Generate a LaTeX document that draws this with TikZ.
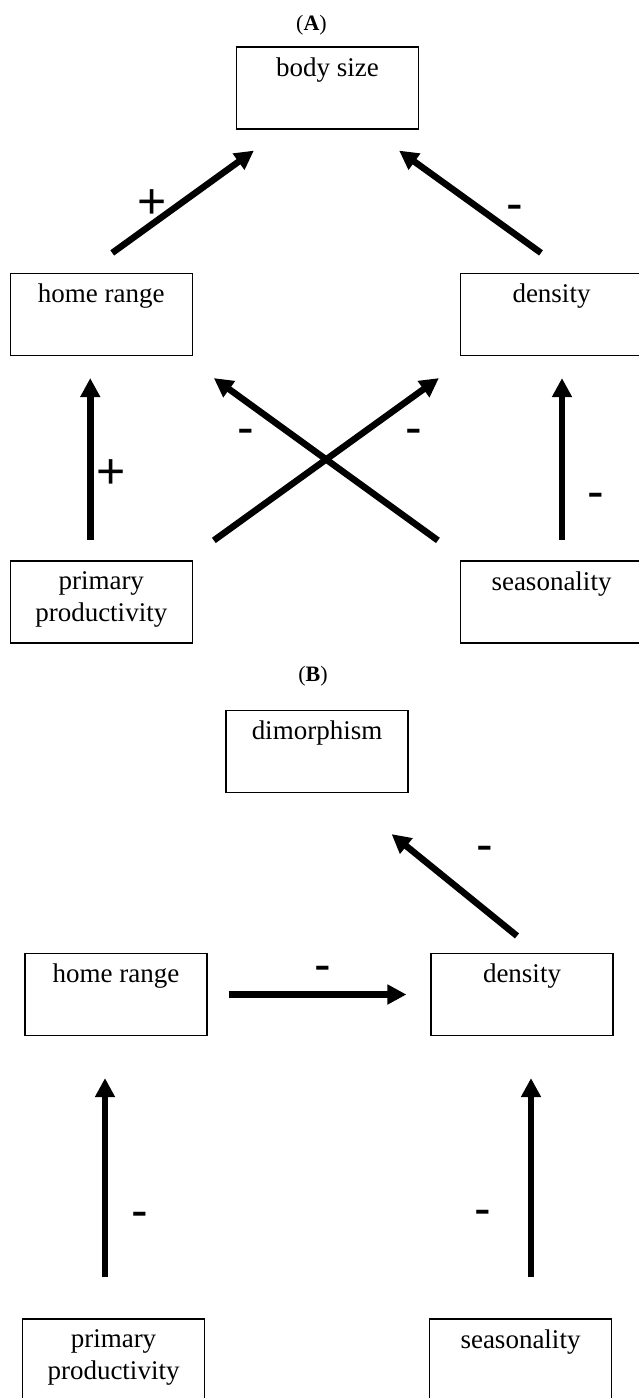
\documentclass[tikz,border=0pt]{standalone}
\usepackage{fontspec}
\setmainfont{Liberation Serif}
\newfontfamily\signfont{Liberation Sans}
\usetikzlibrary{arrows.meta,calc}

\tikzset{
  box/.style={draw, line width=1.2pt, minimum width=182pt, minimum height=82pt, inner sep=0pt},
  boxtext/.style={anchor=north, yshift=-11pt, inner sep=0pt, align=center, font=\fontsize{27}{32}\selectfont},
  causal/.style={line width=6.5pt, -{Triangle[length=19pt,width=19pt]}},
  minus/.style={font=\signfont\fontsize{50}{60}\selectfont, inner sep=0pt, text height=27pt, text depth=0pt},
  plus/.style={font=\signfont\fontsize{50}{60}\selectfont, inner sep=0pt, text height=35pt, text depth=0pt},
  panel/.style={anchor=base, font=\fontsize{22}{26}\selectfont}
}

\begin{document}
\begin{tikzpicture}[x=1pt, y=-1pt] % pixel grid, y runs down

  \useasboundingbox (0,0) rectangle (638,1398);

  % Panel A: boxes
  \node[panel] (panelA) at (311.5,30) {(\textbf{A})};
  \node[box, label={[boxtext]north:body size}] (body) at (327.5,88) {};
  \node[box, label={[boxtext]north:home range}] (homeA) at (101.25,314.5) {};
  \node[box, label={[boxtext]north:density}] (densA) at (551.5,314.5) {};
  \node[box, label={[boxtext]north:primary\\productivity}] (primA) at (101.25,602) {};
  \node[box, label={[boxtext]north:seasonality}] (seasA) at (551.5,602) {};

  % Panel A: effects
  \draw[causal] ($(homeA.north)+(11,-20)$) -- ($(body.south west)+(18,21)$);
  \draw[causal] ($(densA.north)+(-10.5,-20)$) -- ($(body.south east)+(-20,21)$);
  \draw[causal] ($(primA.north)+(-11,-20)$) -- ($(homeA.south)+(-11,22)$);
  \draw[causal] ($(seasA.north)+(10.5,-20)$) -- ($(densA.south)+(10.5,22)$);
  \draw[causal] ($(primA.north east)+(21,-20)$) -- ($(densA.south west)+(-21,22)$);
  \draw[causal] ($(seasA.north west)+(-22,-20)$) -- ($(homeA.south east)+(21,22)$);

  % Panel A: signs
  \node[plus] (pA1) at (152,201) {+};
  \node[minus] (mA1) at (515,207) {-};
  \node[minus] (mA2) at (246,431) {-};
  \node[minus] (mA3) at (414,431) {-};
  \node[plus] (pA2) at (111,471) {+};
  \node[minus] (mA4) at (596,495) {-};

  % Panel B: boxes
  \node[panel] (panelB) at (313,681) {(\textbf{B})};
  \node[box, label={[boxtext]north:dimorphism}] (dimo) at (317,751.5) {};
  \node[box, label={[boxtext]north:home range}] (homeB) at (116,994.5) {};
  \node[box, label={[boxtext]north:density}] (densB) at (522,994.5) {};
  \node[box, label={[boxtext]north:primary\\productivity}] (primB) at (113.5,1360) {};
  \node[box, label={[boxtext]north:seasonality}] (seasB) at (520.5,1360) {};

  % Panel B: effects
  \draw[causal] ($(densB.north)+(-5,-17)$) -- ($(dimo.south east)+(-17,41)$);
  \draw[causal] ($(homeB.east)+(21,0)$) -- ($(densB.west)+(-24,0)$);
  \draw[causal] ($(primB.north)+(-8.5,-41)$) -- ($(homeB.south)+(-11,42)$);
  \draw[causal] ($(seasB.north)+(10.5,-41)$) -- ($(densB.south)+(9,42)$);

  % Panel B: signs
  \node[minus] (mB1) at (485,848) {-};
  \node[minus] (mB2) at (323,968) {-};
  \node[minus] (mB3) at (140,1214) {-};
  \node[minus] (mB4) at (483,1212) {-};

\end{tikzpicture}
\end{document}
